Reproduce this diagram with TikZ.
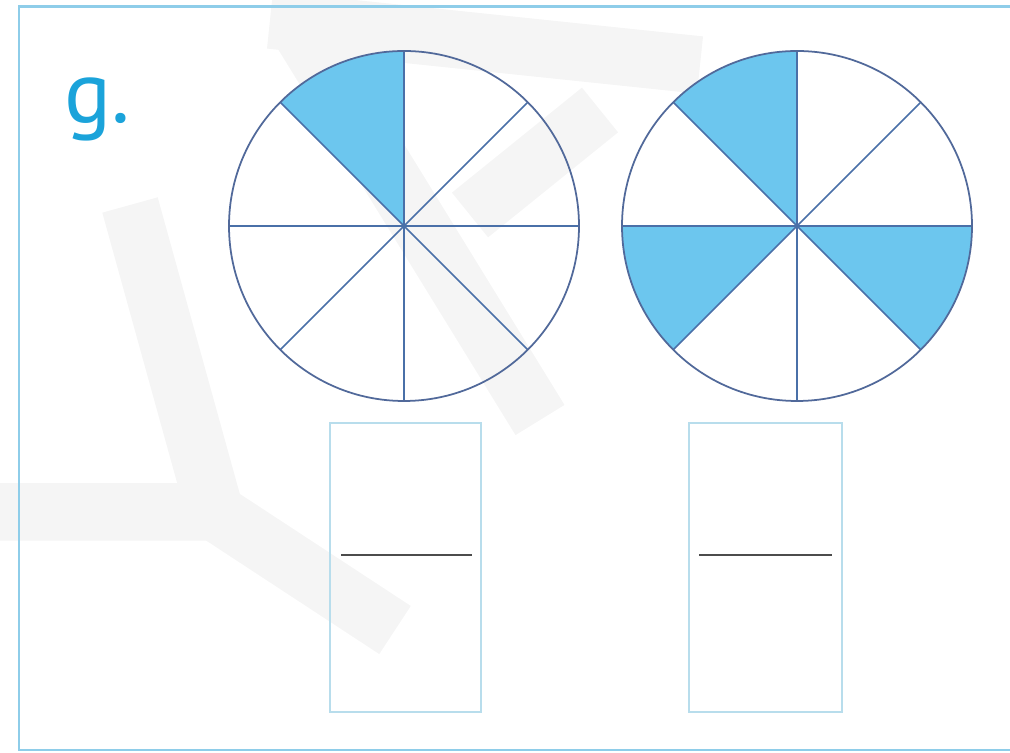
\documentclass[tikz,border=0pt]{standalone}
\usepackage{fontspec}
\setmainfont{PT Sans}
\definecolor{cadre}{HTML}{8ECDE9}
\definecolor{boite}{HTML}{B8DDEC}
\definecolor{bord}{HTML}{51699A}
\definecolor{rayon}{HTML}{4A70A8}
\definecolor{part}{HTML}{6CC6EE}
\definecolor{titre}{HTML}{1BA3DA}
\tikzset{
  filigrane/.style={black!4, line width=1.15cm, line join=round},
  disque/.style={bord, line width=1pt},
  secteur/.style={rayon, line width=0.9pt},
  diametre/.style={rayon, line width=1.5pt},
  fraction/.style={boite, line width=1.4pt},
}
\begin{document}
\begin{tikzpicture}[x=0.02cm, y=0.02cm]
    \def\r{175} % rayon des disques
    \useasboundingbox (0,0) rectangle (1010,753);

    % filigrane gris clair
    \draw[filigrane] (130,548) -- (215,241) -- (0,241);
    \draw[filigrane] (215,241) -- (395,123);
    \draw[filigrane] (300,723) -- (540,333);
    \draw[filigrane] (270,733) -- (700,688);
    \draw[filigrane] (470,538) -- (600,643);

    % cadre ouvert a droite
    \draw[cadre, line width=1.7pt] (1020,746) -- (19,746) -- (19,3) -- (1020,3);

    \node[titre, font=\fontsize{50}{50}\selectfont, anchor=base west] (lettre) at (58,630) {g.};

    % disque 1 : une part sur huit
    \begin{scope}[shift={(404,527)}]
    \fill[part] (0,0) -- (90:\r) arc (90:135:\r) -- cycle;
    \foreach \a in {45,135,225,315} \draw[secteur] (0,0) -- (\a:\r);
    \draw[secteur] (0,0) -- (90:\r) (0,0) -- (270:\r);
    \draw[diametre] (180:\r) -- (0:\r);
    \draw[disque] (0,0) circle (\r);
    \end{scope}

    % disque 2 : trois parts sur huit
    \begin{scope}[shift={(797,527)}]
    \foreach \a in {90,180,315}
      \fill[part] (0,0) -- (\a:\r) arc (\a:\a+45:\r) -- cycle;
    \foreach \a in {45,135,225,315} \draw[secteur] (0,0) -- (\a:\r);
    \draw[diametre] (0,0) -- (90:\r);
    \draw[secteur] (0,0) -- (270:\r);
    \draw[diametre] (180:\r) -- (0:\r);
    \draw[disque] (0,0) circle (\r);
    \end{scope}

    % cases pour ecrire les fractions
    \draw[fraction] (330,41) rectangle (481,330);
    \draw[black!70, line width=1.2pt] (341,198) -- (472,198);

    \draw[fraction] (689,41) rectangle (842,330);
    \draw[black!70, line width=1.2pt] (699,198) -- (832,198);
\end{tikzpicture}
\end{document}
